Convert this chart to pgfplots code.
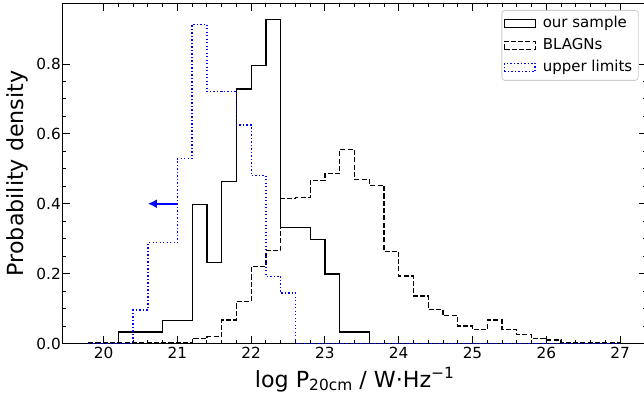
\documentclass[border=0pt]{standalone}
\usepackage{fontspec}
\setmainfont{DejaVu Sans}
\usepackage{pgfplots}
\pgfplotsset{compat=1.18}
\usetikzlibrary{arrows.meta}

\begin{document}
\begin{tikzpicture}
\begin{axis}[
  scale only axis, width=584.3pt, height=340.2pt,
  xmin=19.44, xmax=27.36, ymin=0, ymax=0.9736,
  xtick={20,21,22,23,24,25,26,27},
  ytick={0,0.2,0.4,0.6,0.8}, yticklabels={0.0,0.2,0.4,0.6,0.8},
  minor x tick num=4, minor y tick num=3,
  tick align=inside, major tick length=7.5pt, minor tick length=4pt,
  every tick/.style={black, line width=0.9pt},
  axis line style={line width=1.1pt},
  /pgf/number format/assume math mode=true,
  tick label style={font=\fontsize{15.3}{18}\selectfont},
  yticklabel style={xshift=2pt},
  xlabel={log P\raisebox{-3.4pt}{\fontsize{15.4}{16}\selectfont 20cm} / W·Hz\raisebox{9pt}{\fontsize{15.4}{16}\selectfont −1}},
  ylabel={Probability density},
  label style={font=\fontsize{22.2}{26}\selectfont},
  xlabel style={at={(axis description cs:0.5,-0.1287)}, anchor=base},
  ylabel style={at={(axis description cs:-0.0762,0.5)}, anchor=center},
  legend style={at={(rel axis cs:1,1)}, anchor=north east, xshift=-7.9pt, yshift=-6.7pt,
    draw=black!20, line width=0.8pt, rounded corners=3pt, fill=white,
    font=\fontsize{15}{18}\selectfont, inner xsep=2pt, inner ysep=5.5pt, row sep=7pt,
    nodes={font=\fontsize{15}{18}\selectfont, inner xsep=4pt, inner ysep=0pt, text height=11.5pt, text depth=3.5pt},
    /tikz/column sep=3pt},
  legend cell align=left,
  legend image code/.code={\draw[#1,fill=none,rounded corners=0pt] (0pt,-4.2pt) rectangle (30.6pt,4.2pt);},
]
% our sample
\addplot[const plot, black, line width=1.2pt] coordinates {
(19.8,0) (20.2,0.0331) (20.4,0.0331) (20.6,0.0331) (20.8,0.0662) (21.0,0.0662)
(21.2,0.3974) (21.4,0.2318) (21.6,0.4636) (21.8,0.7285) (22.0,0.7947) (22.2,0.9272)
(22.4,0.3311) (22.6,0.3311) (22.8,0.2980) (23.0,0.1987) (23.2,0.0331) (23.4,0.0331)
(23.6,0) (27.0,0)};
\addlegendentry{our sample}
% BLAGNs
\addplot[const plot, black, line width=1.2pt, dash pattern=on 5.1pt off 2.2pt] coordinates {
(19.8,0) (19.8,0.002) (21.2,0.014) (21.4,0.019) (21.6,0.067) (21.8,0.12) (22.0,0.22)
(22.2,0.266) (22.4,0.415) (22.6,0.418) (22.8,0.466) (23.0,0.486) (23.2,0.555)
(23.4,0.470) (23.6,0.453) (23.8,0.264) (24.0,0.193) (24.2,0.136) (24.4,0.098)
(24.6,0.080) (24.8,0.050) (25.0,0.039) (25.2,0.067) (25.4,0.040) (25.6,0.025)
(25.8,0.014) (26.0,0.010) (26.2,0.004) (26.4,0.003) (27.0,0)};
\addlegendentry{BLAGNs}
% upper limits
\addplot[const plot, blue, line width=1.3pt, dash pattern=on 1.4pt off 2.1pt] coordinates {
(19.8,0) (20.4,0.0962) (20.6,0.2885) (20.8,0.2885) (21.0,0.5288) (21.2,0.9135)
(21.4,0.7212) (21.6,0.7212) (21.8,0.6250) (22.0,0.4808) (22.2,0.1923) (22.4,0.1442)
(22.6,0) (27.0,0)};
\addlegendentry{upper limits}
\addplot[blue, line width=2pt, -{Latex[length=9pt,width=9pt]}, forget plot] coordinates {(21.0,0.4) (20.6,0.4)};
\end{axis}
\pgfresetboundingbox
\useasboundingbox ([shift={(-62.3pt,-57.5pt)}]current axis.south west) rectangle ([shift={(-2.6pt,3.3pt)}]current axis.north east);
\end{tikzpicture}
\end{document}
